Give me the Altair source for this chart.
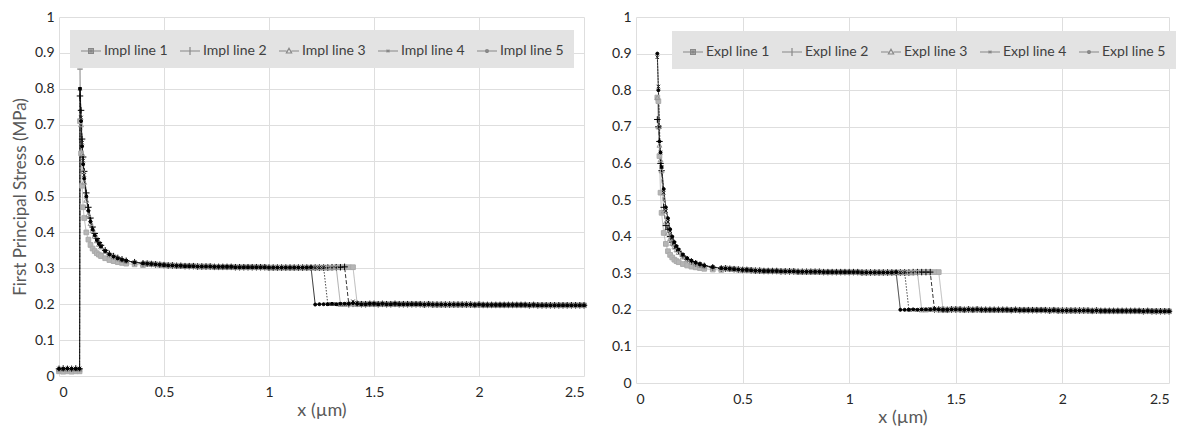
import altair as alt
import pandas as pd

# ---------------- data ----------------
IMPL_NAMES = ["Impl line 1", "Impl line 2", "Impl line 3", "Impl line 4", "Impl line 5"]
EXPL_NAMES = ["Expl line 1", "Expl line 2", "Expl line 3", "Expl line 4", "Expl line 5"]

X_HEAD = [0.0, 0.02, 0.04, 0.06, 0.08, 0.098]
X_DECAY = [0.1, 0.105, 0.11, 0.115, 0.12, 0.13, 0.14, 0.15, 0.16, 0.17, 0.18, 0.19, 0.2,
           0.22, 0.24, 0.26, 0.28, 0.3, 0.32, 0.36, 0.4]
X_MID = [0.42, 0.44, 0.46, 0.48, 0.50, 0.52, 0.54, 0.56, 0.58, 0.60, 0.62, 0.64, 0.66,
         0.68, 0.70, 0.72, 0.74, 0.76, 0.78, 0.80, 0.82, 0.84, 0.86, 0.88, 0.90, 0.92,
         0.94, 0.96, 0.98, 1.00, 1.02, 1.04, 1.06, 1.08, 1.10, 1.12, 1.14, 1.16]
X_STEP = [1.18, 1.20, 1.22, 1.24, 1.26, 1.28, 1.30, 1.32, 1.34, 1.36, 1.38, 1.40, 1.42, 1.44, 1.46]
X_TAIL = [1.48, 1.50, 1.52, 1.54, 1.56, 1.58, 1.60, 1.62, 1.64, 1.66, 1.68, 1.70, 1.72,
          1.74, 1.76, 1.78, 1.80, 1.82, 1.84, 1.86, 1.88, 1.90, 1.92, 1.94, 1.96, 1.98,
          2.00, 2.02, 2.04, 2.06, 2.08, 2.10, 2.12, 2.14, 2.16, 2.18, 2.20, 2.22, 2.24,
          2.26, 2.28, 2.30, 2.32, 2.34, 2.36, 2.38, 2.40, 2.42, 2.44, 2.46, 2.48, 2.50]

# Implicit panel
IMPL_HEAD = [
    [0.013, 0.012, 0.013, 0.012, 0.013, 0.013],
    [0.020, 0.021, 0.020, 0.020, 0.021, 0.020],
    [0.019, 0.020, 0.019, 0.020, 0.019, 0.019],
    [0.021, 0.020, 0.021, 0.021, 0.020, 0.021],
    [0.020, 0.020, 0.021, 0.020, 0.020, 0.020],
]
IMPL_DECAY = [
    [0.71, 0.62, 0.53, 0.47, 0.44, 0.40, 0.38, 0.365, 0.355, 0.348, 0.342, 0.338, 0.334, 0.328, 0.323, 0.32, 0.317, 0.315, 0.313, 0.311, 0.309],
    [0.78, 0.74, 0.66, 0.61, 0.57, 0.51, 0.47, 0.44, 0.415, 0.397, 0.383, 0.372, 0.364, 0.35, 0.34, 0.334, 0.329, 0.325, 0.321, 0.317, 0.314],
    [0.86, 0.70, 0.62, 0.57, 0.54, 0.49, 0.45, 0.425, 0.405, 0.39, 0.377, 0.367, 0.36, 0.347, 0.338, 0.332, 0.327, 0.323, 0.32, 0.316, 0.313],
    [0.80, 0.72, 0.65, 0.60, 0.56, 0.50, 0.465, 0.435, 0.41, 0.394, 0.38, 0.37, 0.362, 0.349, 0.339, 0.333, 0.328, 0.324, 0.321, 0.317, 0.314],
    [0.80, 0.71, 0.64, 0.59, 0.55, 0.50, 0.46, 0.43, 0.408, 0.392, 0.379, 0.369, 0.361, 0.348, 0.339, 0.333, 0.328, 0.324, 0.321, 0.317, 0.314],
]
IMPL_MID = [0.313, 0.312, 0.311, 0.310, 0.309, 0.308, 0.308, 0.307, 0.307, 0.306,
            0.306, 0.306, 0.305, 0.305, 0.305, 0.305, 0.304, 0.304, 0.304, 0.304,
            0.304, 0.303, 0.303, 0.303, 0.303, 0.303, 0.303, 0.303, 0.303, 0.302,
            0.302, 0.302, 0.302, 0.302, 0.302, 0.302, 0.302, 0.302]
IMPL_STEP = [
    [0.302, 0.302, 0.302, 0.302, 0.302, 0.302, 0.302, 0.303, 0.303, 0.303, 0.303, 0.303, 0.201, 0.201, 0.200],
    [0.302, 0.302, 0.302, 0.302, 0.302, 0.302, 0.303, 0.303, 0.303, 0.304, 0.200, 0.201, 0.201, 0.200, 0.200],
    [0.302, 0.302, 0.302, 0.302, 0.302, 0.302, 0.303, 0.303, 0.200, 0.200, 0.201, 0.201, 0.200, 0.200, 0.200],
    [0.302, 0.302, 0.302, 0.302, 0.303, 0.200, 0.200, 0.200, 0.201, 0.201, 0.202, 0.208, 0.203, 0.200, 0.200],
    [0.302, 0.303, 0.199, 0.200, 0.200, 0.200, 0.201, 0.200, 0.201, 0.201, 0.201, 0.203, 0.201, 0.200, 0.200],
]
IMPL_TAIL = [0.201, 0.201, 0.200, 0.201, 0.200, 0.200, 0.201, 0.200, 0.200, 0.200, 0.200, 0.200,
             0.200, 0.199, 0.200, 0.199, 0.199, 0.199, 0.199, 0.199, 0.199, 0.199, 0.199, 0.199,
             0.199, 0.198, 0.199, 0.198, 0.198, 0.198, 0.198, 0.198, 0.198, 0.198, 0.198, 0.198,
             0.198, 0.198, 0.197, 0.198, 0.197, 0.197, 0.197, 0.197, 0.197, 0.197, 0.197, 0.197,
             0.197, 0.197, 0.197, 0.197]

# Explicit panel
EXPL_DECAY = [
    [0.78, 0.77, 0.62, 0.52, 0.465, 0.41, 0.38, 0.36, 0.35, 0.343, 0.337, 0.333, 0.33, 0.325, 0.321, 0.318, 0.316, 0.314, 0.312, 0.31, 0.309],
    [0.72, 0.70, 0.66, 0.60, 0.58, 0.48, 0.43, 0.42, 0.40, 0.385, 0.375, 0.367, 0.36, 0.347, 0.338, 0.332, 0.327, 0.323, 0.32, 0.316, 0.313],
    [0.78, 0.70, 0.65, 0.61, 0.58, 0.47, 0.44, 0.41, 0.395, 0.382, 0.372, 0.364, 0.357, 0.345, 0.337, 0.331, 0.326, 0.322, 0.319, 0.315, 0.313],
    [0.89, 0.81, 0.70, 0.63, 0.59, 0.52, 0.47, 0.44, 0.415, 0.397, 0.383, 0.372, 0.364, 0.35, 0.34, 0.334, 0.329, 0.325, 0.321, 0.317, 0.314],
    [0.90, 0.80, 0.66, 0.63, 0.59, 0.53, 0.48, 0.45, 0.42, 0.40, 0.385, 0.374, 0.365, 0.351, 0.341, 0.334, 0.329, 0.325, 0.321, 0.317, 0.314],
]
EXPL_MID = [0.313, 0.312, 0.311, 0.310, 0.309, 0.309, 0.308, 0.307, 0.307, 0.306,
            0.306, 0.306, 0.306, 0.305, 0.305, 0.305, 0.305, 0.304, 0.304, 0.304,
            0.304, 0.304, 0.304, 0.303, 0.303, 0.303, 0.303, 0.303, 0.303, 0.303,
            0.303, 0.303, 0.302, 0.302, 0.302, 0.302, 0.302, 0.302]
EXPL_STEP = [
    [0.302, 0.302, 0.302, 0.302, 0.302, 0.302, 0.302, 0.303, 0.303, 0.303, 0.303, 0.303, 0.303, 0.201, 0.200],
    [0.302, 0.302, 0.302, 0.302, 0.302, 0.302, 0.303, 0.303, 0.303, 0.303, 0.303, 0.201, 0.201, 0.200, 0.200],
    [0.302, 0.302, 0.302, 0.302, 0.302, 0.302, 0.303, 0.303, 0.200, 0.200, 0.201, 0.201, 0.200, 0.200, 0.200],
    [0.302, 0.302, 0.302, 0.302, 0.303, 0.200, 0.200, 0.200, 0.201, 0.201, 0.202, 0.203, 0.202, 0.200, 0.200],
    [0.302, 0.302, 0.303, 0.200, 0.200, 0.200, 0.201, 0.200, 0.201, 0.201, 0.201, 0.202, 0.201, 0.200, 0.200],
]
EXPL_TAIL = [0.201, 0.201, 0.201, 0.200, 0.201, 0.200, 0.201, 0.200, 0.200, 0.200, 0.200, 0.200,
             0.200, 0.200, 0.199, 0.200, 0.199, 0.199, 0.199, 0.199, 0.199, 0.199, 0.199, 0.198,
             0.199, 0.198, 0.198, 0.198, 0.198, 0.198, 0.198, 0.198, 0.198, 0.197, 0.198, 0.197,
             0.197, 0.197, 0.197, 0.197, 0.197, 0.197, 0.197, 0.197, 0.197, 0.196, 0.197, 0.196,
             0.196, 0.196, 0.196, 0.196]

X_TICKS = [0, 0.5, 1, 1.5, 2, 2.5]
Y_TICKS = [0, 0.1, 0.2, 0.3, 0.4, 0.5, 0.6, 0.7, 0.8, 0.9, 1]

# ---------------- styles ----------------
FONT = "Lato"
STROKES = ["#aaaaaa", "#000000", "#999999", "#1a1a1a", "#000000"]
FILLS = ["#b5b5b5", "transparent", "transparent", "transparent", "#000000"]
DASHES = [[1, 0], [4, 2], [1, 0], [1.5, 1.5], [1, 0]]
SHAPES = ["square", "M-1,0H1M0,-1V1", "triangle-up",
          "M-1,-1L1,1M-1,1L1,-1", "circle"]
SIZES = [22, 42, 24, 12, 9]
LEGEND_SHAPES = [
    "M-1,0H1M-0.24,-0.24H0.24V0.24H-0.24ZM-0.1,-0.1H0.1V0.1H-0.1Z",
    "M-1,0H1M0,-0.4V0.4",
    "M-1,0H-0.24M0.24,0H1M0,-0.28L0.26,0.2H-0.26Z",
    "M-1,0H1M-0.14,-0.14L0.14,0.14M-0.14,0.14L0.14,-0.14",
    "M-1,0H1M0.15,0A0.15,0.15,0,1,1,-0.15,0A0.15,0.15,0,1,1,0.15,0M0.06,0A0.06,0.06,0,1,1,-0.06,0A0.06,0.06,0,1,1,0.06,0",
]


def build(names, heads, decays, mid, steps, tail):
    rows = []
    for i, name in enumerate(names):
        xs = (X_HEAD if heads else []) + X_DECAY + X_MID + X_STEP + X_TAIL
        ys = (heads[i] if heads else []) + decays[i] + mid + steps[i] + tail
        assert len(xs) == len(ys), (name, len(xs), len(ys))
        for k, (xv, yv) in enumerate(zip(xs, ys)):
            rows.append({"x": xv, "y": yv, "series": name, "idx": k})
    return pd.DataFrame(rows)


def panel(df, names, width, height, ytitle, legend_x, legend_y):
    xenc = alt.X("x:Q", scale=alt.Scale(domain=[0, 2.5], nice=False),
                 axis=alt.Axis(values=X_TICKS, format="~g", title="x (µm)"))
    if ytitle:
        yaxis = alt.Axis(values=Y_TICKS, format="~g", title=ytitle)
    else:
        yaxis = alt.Axis(values=Y_TICKS, format="~g", title=None)
    yenc = alt.Y("y:Q", scale=alt.Scale(domain=[0, 1], nice=False), axis=yaxis)
    stroke = alt.Stroke("series:N", scale=alt.Scale(domain=names, range=STROKES), legend=None)

    lines = alt.Chart(df).mark_line(strokeWidth=0.8).encode(
        x=xenc, y=yenc, order="idx:Q", stroke=stroke,
        strokeDash=alt.StrokeDash("series:N", scale=alt.Scale(domain=names, range=DASHES), legend=None),
    )
    points = alt.Chart(df).mark_point(filled=False, strokeWidth=1, opacity=1).encode(
        x=xenc, y=yenc, stroke=stroke,
        fill=alt.Fill("series:N", scale=alt.Scale(domain=names, range=FILLS), legend=None),
        shape=alt.Shape("series:N", scale=alt.Scale(domain=names, range=SHAPES), legend=None),
        size=alt.Size("series:N", scale=alt.Scale(type="ordinal", domain=names, range=SIZES), legend=None),
    )
    leg = alt.Legend(
        title=None, orient="none", legendX=legend_x, legendY=legend_y,
        direction="horizontal", columns=5, fillColor="#e3e3e3", padding=10,
        symbolSize=400, symbolStrokeWidth=1.2, symbolOpacity=1,
        labelFont=FONT, labelFontSize=14, labelColor="#404040",
        columnPadding=9, labelOffset=2,
    )
    legend_layer = alt.Chart(df).mark_point(filled=False, opacity=0, strokeWidth=1.2).encode(
        x=xenc, y=yenc,
        color=alt.Color("series:N", scale=alt.Scale(domain=names, range=STROKES), legend=leg),
        shape=alt.Shape("series:N", scale=alt.Scale(domain=names, range=LEGEND_SHAPES), legend=leg),
    )
    return alt.layer(lines, points, legend_layer).resolve_scale(
        shape="independent"
    ).properties(width=width, height=height)


df_impl = build(IMPL_NAMES, IMPL_HEAD, IMPL_DECAY, IMPL_MID, IMPL_STEP, IMPL_TAIL)
df_expl = build(EXPL_NAMES, None, EXPL_DECAY, EXPL_MID, EXPL_STEP, EXPL_TAIL)

left = panel(df_impl, IMPL_NAMES, 525, 359, "First Principal Stress (MPa)", 11, 13)
right = panel(df_expl, EXPL_NAMES, 533, 366, None, 36, 14)

chart = alt.hconcat(left, right, spacing=21).properties(
    padding={"left": 3, "top": 2, "right": 0, "bottom": 2},
    background="white",
).configure_view(stroke=None).configure_axis(
    labelFont=FONT, labelFontSize=14, labelColor="#262626",
    titleFont=FONT, titleFontWeight="normal", titleColor="#595959",
    gridColor="#dedede", gridWidth=1, domain=False, ticks=False,
).configure_axisX(
    titleFontSize=18, labelPadding=9, titlePadding=2,
).configure_axisY(
    titleFontSize=17, titlePadding=5, labelPadding=5,
)

chart.save("out.html", embed_options={"renderer": "svg", "actions": False})
